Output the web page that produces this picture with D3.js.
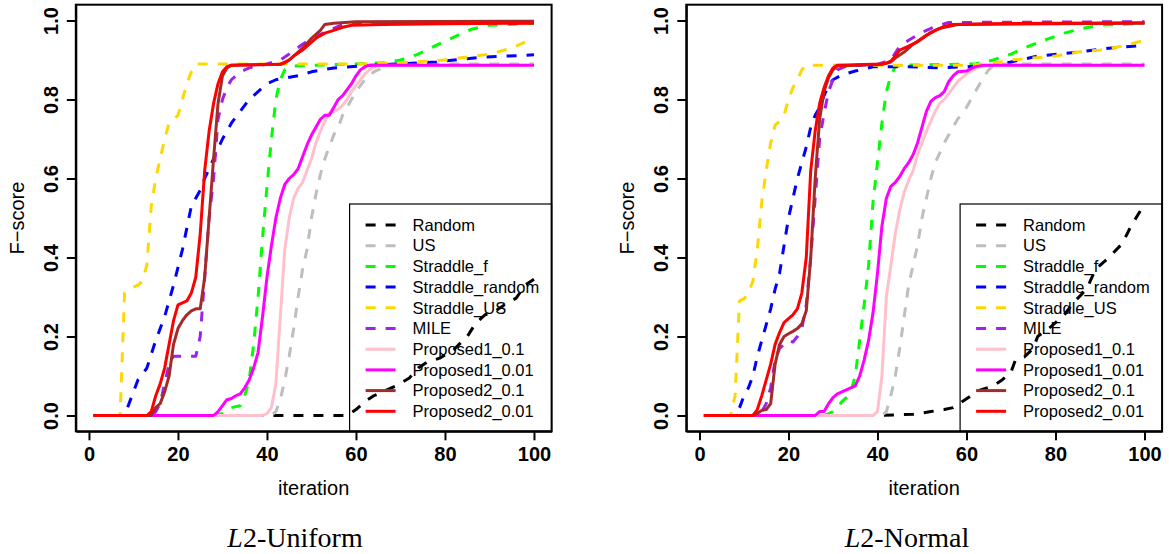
<!DOCTYPE html>
<html lang="en">
<head>
<meta charset="UTF-8">
<title>F-score vs iteration</title>
<script src="https://d3js.org/d3.v7.min.js"></script>
<style>
  body { margin: 0; background: #fff; }
  .tick text { font-family: "Liberation Sans", Arial, sans-serif; font-weight: bold; font-size: 20px; fill: #000; }
  .tick line, .domain { stroke: #000; stroke-width: 2px; }
  .axis-title { font-family: "Liberation Sans", Arial, sans-serif; font-size: 20px; fill: #000; }
  .legend-text { font-family: "Liberation Sans", Arial, sans-serif; font-size: 16.5px; fill: #000; }
  .caption { font-family: "Liberation Serif", "DejaVu Serif", serif; font-size: 28px; fill: #000; }
</style>
</head>
<body>
<svg id="chart" width="1169" height="554"></svg>
<script>
// legend / series names, in drawing order
const seriesNames = ["Random", "US", "Straddle_f", "Straddle_random", "Straddle_US", "MILE",
                     "Proposed1_0.1", "Proposed1_0.01", "Proposed2_0.1", "Proposed2_0.01"];
const seriesColors = ["#000000", "#BEBEBE", "#00FF00", "#0000FF", "#FFD700", "#A020F0",
                      "#FFC0CB", "#FF00FF", "#A52A2A", "#FF0000"];
const seriesDashed = [true, true, true, true, true, true, false, false, false, false];

const xTicks = [0, 20, 40, 60, 80, 100];
const yTicks = [0, 0.2, 0.4, 0.6, 0.8, 1.0];

// ---- L2-Uniform: [iteration, F-score] ----
const uniRandom = [[1,0],[58,0],[60,0.015],[62,0.035],[64,0.05],[66,0.06],[69,0.075],[72,0.095],[74,0.12],[76,0.135],[79,0.146],[82,0.167],[85,0.2],[87,0.235],[89,0.255],[91,0.262],[94,0.285],[96,0.297],[98,0.33],[100,0.345]];
const uniUS = [[1,0],[41,0],[42,0.01],[43,0.04],[44,0.09],[45,0.15],[46,0.22],[47,0.3],[48,0.37],[49,0.42],[50,0.5],[51,0.56],[52,0.61],[53,0.65],[54,0.68],[55,0.71],[56,0.73],[57,0.76],[58,0.78],[59,0.8],[60,0.82],[62,0.85],[64,0.87],[66,0.88],[68,0.89],[100,0.89]];
const uniStraddleF = [[1,0],[28,0],[30,0.005],[32,0.02],[34,0.025],[35,0.05],[36,0.09],[37,0.18],[38,0.3],[39,0.45],[40,0.58],[41,0.7],[42,0.8],[43,0.85],[44,0.875],[46,0.885],[60,0.89],[66,0.893],[70,0.9],[74,0.915],[78,0.937],[82,0.958],[86,0.978],[90,0.988],[100,0.993]];
const uniStraddleRandom = [[1,0],[8,0],[9,0.03],[10,0.06],[11,0.09],[13,0.12],[15,0.19],[17,0.25],[19,0.33],[21,0.42],[23,0.53],[25,0.57],[26,0.6],[28,0.65],[30,0.7],[32,0.74],[34,0.77],[36,0.8],[38,0.82],[40,0.84],[42,0.85],[47,0.86],[50,0.87],[55,0.88],[64,0.887],[78,0.895],[88,0.907],[100,0.913]];
const uniStraddleUS = [[1,0],[7,0],[8,0.31],[9,0.32],[11,0.33],[12,0.34],[13,0.38],[14,0.53],[15,0.6],[16,0.65],[17,0.7],[18,0.74],[19,0.75],[20,0.76],[21,0.8],[22,0.84],[23,0.87],[24,0.89],[60,0.89],[70,0.893],[80,0.9],[90,0.915],[95,0.93],[100,0.955]];
const uniMILE = [[1,0],[14,0],[15,0.01],[16,0.03],[17,0.08],[18,0.13],[19,0.15],[20,0.15],[24,0.15],[25,0.2],[26,0.35],[27,0.5],[28,0.6],[29,0.75],[30,0.8],[31,0.83],[32,0.85],[34,0.87],[36,0.88],[38,0.885],[40,0.89],[43,0.9],[45,0.915],[48,0.94],[51,0.96],[54,0.975],[57,0.99],[60,0.995],[100,0.997]];
const uniProp1a = [[1,0],[39,0],[40,0.005],[41,0.02],[42,0.08],[43,0.25],[44,0.42],[45,0.5],[46,0.55],[47,0.575],[48,0.59],[49,0.62],[50,0.65],[51,0.69],[52,0.72],[53,0.745],[54,0.765],[55,0.77],[56,0.775],[57,0.785],[58,0.8],[59,0.82],[60,0.835],[61,0.85],[62,0.865],[63,0.875],[64,0.882],[66,0.887],[100,0.887]];
const uniProp1b = [[1,0],[28,0],[29,0.01],[30,0.025],[31,0.04],[32,0.043],[33,0.05],[34,0.055],[35,0.07],[36,0.09],[37,0.12],[38,0.16],[39,0.25],[40,0.35],[41,0.43],[42,0.5],[43,0.55],[44,0.585],[45,0.6],[46,0.61],[47,0.625],[48,0.655],[49,0.685],[50,0.71],[51,0.73],[52,0.75],[53,0.76],[54,0.76],[55,0.78],[56,0.8],[57,0.81],[58,0.825],[59,0.84],[60,0.86],[61,0.875],[62,0.883],[63,0.887],[100,0.887]];
const uniProp2a = [[1,0],[14,0],[15,0.02],[16,0.03],[17,0.06],[18,0.1],[19,0.18],[20,0.22],[21,0.24],[22,0.255],[23,0.265],[24,0.27],[25,0.27],[26,0.35],[27,0.5],[28,0.65],[29,0.79],[30,0.86],[31,0.88],[32,0.887],[43,0.889],[45,0.9],[48,0.93],[50,0.955],[52,0.975],[53,0.99],[55,0.993],[60,0.997],[100,0.998]];
const uniProp2b = [[1,0],[13,0],[14,0.01],[15,0.05],[16,0.08],[17,0.12],[18,0.18],[19,0.24],[20,0.28],[21,0.285],[22,0.29],[23,0.31],[24,0.35],[25,0.46],[26,0.62],[27,0.72],[28,0.79],[29,0.84],[30,0.87],[31,0.883],[32,0.887],[43,0.889],[44,0.893],[45,0.9],[46,0.91],[48,0.925],[50,0.945],[51,0.955],[53,0.968],[55,0.975],[57,0.983],[59,0.988],[66,0.99],[80,0.992],[100,0.993]];

// ---- L2-Normal ----
const norRandom = [[1,0],[40,0],[48,0.003],[52,0.01],[55,0.015],[57,0.02],[59,0.035],[61,0.05],[63,0.064],[66,0.075],[68,0.09],[70,0.11],[71,0.14],[73,0.148],[75,0.17],[76,0.2],[79,0.225],[82,0.255],[84,0.285],[87,0.32],[89,0.37],[92,0.4],[95,0.435],[97,0.48],[100,0.535]];
const norUS = [[1,0],[41,0],[42,0.01],[43,0.05],[44,0.1],[45,0.17],[46,0.25],[47,0.33],[48,0.38],[49,0.43],[50,0.5],[51,0.55],[52,0.6],[53,0.64],[54,0.665],[55,0.69],[56,0.71],[57,0.73],[58,0.75],[59,0.765],[60,0.78],[61,0.8],[62,0.82],[63,0.84],[64,0.86],[65,0.875],[66,0.885],[67,0.89],[100,0.89]];
const norStraddleF = [[1,0],[28,0],[30,0.01],[31,0.02],[32,0.035],[33,0.045],[34,0.06],[35,0.1],[36,0.19],[37,0.28],[38,0.38],[39,0.54],[40,0.64],[41,0.74],[42,0.82],[43,0.86],[44,0.883],[46,0.887],[62,0.89],[66,0.9],[70,0.915],[74,0.935],[78,0.952],[82,0.968],[86,0.98],[90,0.988],[100,0.993]];
const norStraddleRandom = [[1,0],[8,0],[9,0.02],[10,0.05],[11,0.07],[12,0.1],[13,0.15],[14,0.19],[15,0.23],[16,0.27],[17,0.32],[18,0.36],[19,0.43],[20,0.5],[21,0.55],[22,0.6],[23,0.64],[24,0.68],[25,0.73],[26,0.76],[27,0.78],[28,0.81],[29,0.835],[30,0.85],[32,0.862],[35,0.872],[39,0.883],[47,0.883],[54,0.88],[60,0.883],[66,0.887],[70,0.895],[76,0.91],[85,0.92],[92,0.93],[100,0.937]];
const norStraddleUS = [[1,0],[7,0],[8,0.05],[9,0.29],[10,0.295],[11,0.31],[12,0.34],[13,0.42],[14,0.54],[15,0.62],[16,0.69],[17,0.735],[18,0.745],[19,0.76],[20,0.8],[21,0.83],[22,0.85],[23,0.875],[24,0.887],[60,0.887],[65,0.89],[70,0.9],[75,0.905],[80,0.91],[85,0.92],[90,0.925],[95,0.935],[100,0.95]];
const norMILE = [[1,0],[13,0],[14,0.01],[15,0.03],[16,0.07],[17,0.14],[18,0.17],[19,0.18],[20,0.19],[21,0.186],[22,0.2],[23,0.22],[24,0.28],[25,0.4],[26,0.55],[27,0.7],[28,0.765],[29,0.82],[30,0.85],[31,0.875],[33,0.885],[40,0.889],[43,0.9],[45,0.935],[47,0.95],[50,0.97],[53,0.985],[56,0.995],[100,0.997]];
const norProp1a = [[1,0],[39,0],[40,0.01],[41,0.1],[42,0.3],[43,0.38],[44,0.46],[45,0.52],[46,0.565],[47,0.595],[48,0.62],[49,0.66],[50,0.69],[51,0.72],[52,0.745],[53,0.77],[54,0.79],[55,0.8],[56,0.815],[57,0.83],[58,0.845],[59,0.855],[60,0.865],[61,0.872],[62,0.878],[63,0.883],[65,0.887],[100,0.887]];
const norProp1b = [[1,0],[26,0],[27,0.01],[28,0.01],[29,0.03],[30,0.045],[31,0.055],[32,0.06],[33,0.065],[34,0.07],[35,0.075],[36,0.1],[37,0.14],[38,0.19],[39,0.26],[40,0.36],[41,0.48],[42,0.55],[43,0.58],[44,0.59],[45,0.605],[46,0.625],[47,0.64],[48,0.66],[49,0.69],[50,0.73],[51,0.77],[52,0.795],[53,0.805],[54,0.81],[55,0.82],[56,0.845],[57,0.86],[58,0.87],[60,0.872],[61,0.878],[62,0.883],[64,0.887],[100,0.887]];
const norProp2a = [[1,0],[12,0],[13,0.005],[14,0.013],[15,0.015],[16,0.03],[17,0.13],[18,0.18],[19,0.2],[20,0.207],[21,0.213],[22,0.22],[23,0.232],[24,0.265],[25,0.4],[26,0.6],[27,0.75],[28,0.82],[29,0.855],[30,0.875],[31,0.885],[41,0.889],[43,0.895],[44,0.905],[46,0.92],[48,0.94],[50,0.955],[52,0.97],[54,0.98],[56,0.985],[58,0.99],[100,0.993]];
const norProp2b = [[1,0],[12,0],[13,0.015],[14,0.05],[15,0.09],[16,0.13],[17,0.18],[18,0.21],[19,0.235],[20,0.245],[21,0.255],[22,0.27],[23,0.31],[24,0.4],[25,0.62],[26,0.72],[27,0.79],[28,0.83],[29,0.86],[30,0.88],[31,0.887],[41,0.89],[42,0.892],[43,0.897],[44,0.91],[45,0.925],[47,0.935],[49,0.946],[51,0.962],[53,0.975],[55,0.985],[57,0.99],[65,0.992],[100,0.994]];

const uniformSeries = [uniRandom, uniUS, uniStraddleF, uniStraddleRandom, uniStraddleUS, uniMILE, uniProp1a, uniProp1b, uniProp2a, uniProp2b];
const normalSeries = [norRandom, norUS, norStraddleF, norStraddleRandom, norStraddleUS, norMILE, norProp1a, norProp1b, norProp2a, norProp2b];

const svg = d3.select("#chart");

function drawPanel(series, left, captionX, captionRest) {
  const width = 475.8, top = 4.7, bottom = 431.3;
  // R style: data range 1..100, 0..1 padded by 4%
  const x = d3.scaleLinear().domain([-2.96, 103.96]).range([left, left + width]);
  const y = d3.scaleLinear().domain([-0.04, 1.04]).range([bottom, top]);
  const g = svg.append("g");

  const line = d3.line().x(d => x(d[0])).y(d => y(d[1]));

  series.forEach((s, i) => {
    g.append("path")
      .attr("d", line(s))
      .attr("fill", "none")
      .attr("stroke", seriesColors[i])
      .attr("stroke-width", 3)
      .attr("stroke-linejoin", "round")
      .attr("stroke-dasharray", seriesDashed[i] ? "10,10" : null);
  });

  // axes
  g.append("g")
    .attr("transform", `translate(0,${bottom})`)
    .call(d3.axisBottom(x).tickValues(xTicks).tickSize(9).tickSizeOuter(0).tickPadding(7).tickFormat(d3.format("d")));
  const yAxis = g.append("g")
    .attr("transform", `translate(${left},0)`)
    .call(d3.axisLeft(y).tickValues(yTicks).tickSize(9).tickSizeOuter(0).tickFormat(d3.format(".1f")));
  yAxis.selectAll(".tick text")
    .attr("x", null).attr("dy", null)
    .attr("text-anchor", "middle")
    .attr("transform", "translate(-18,0) rotate(-90)");
  g.selectAll(".domain").attr("fill", "none");

  // box
  g.append("rect")
    .attr("x", left).attr("y", top)
    .attr("width", width).attr("height", bottom - top)
    .attr("fill", "none").attr("stroke", "#000").attr("stroke-width", 2);

  // axis titles
  g.append("text").attr("class", "axis-title")
    .attr("x", left + width / 2).attr("y", 495)
    .attr("text-anchor", "middle").text("iteration");
  g.append("text").attr("class", "axis-title")
    .attr("transform", `translate(${left - 52},${(top + bottom) / 2}) rotate(-90)`)
    .attr("text-anchor", "middle").text("F\u2212score");

  // legend, bottom right of the plot
  const lw = 202, lx = left + width - lw, ly = 204;
  g.append("rect")
    .attr("x", lx).attr("y", ly).attr("width", lw).attr("height", bottom - ly)
    .attr("fill", "none").attr("stroke", "#000").attr("stroke-width", 1.2);
  seriesNames.forEach((name, i) => {
    const cy = ly + 21 + i * 20.7;
    g.append("line")
      .attr("x1", lx + 16).attr("x2", lx + 46)
      .attr("y1", cy).attr("y2", cy)
      .attr("stroke", seriesColors[i]).attr("stroke-width", 3)
      .attr("stroke-dasharray", seriesDashed[i] ? "10,10" : null);
    g.append("text").attr("class", "legend-text")
      .attr("x", lx + 63).attr("y", cy).attr("dy", "0.35em")
      .text(name);
  });

  // caption under the panel
  const cap = svg.append("text").attr("class", "caption")
    .attr("x", captionX).attr("y", 547).attr("text-anchor", "middle");
  cap.append("tspan").attr("font-style", "italic").text("L");
  cap.append("tspan").text(captionRest);
}

drawPanel(uniformSeries, 75.8, 295, "2-Uniform");
drawPanel(normalSeries, 686.3, 907, "2-Normal");
</script>
</body>
</html>
